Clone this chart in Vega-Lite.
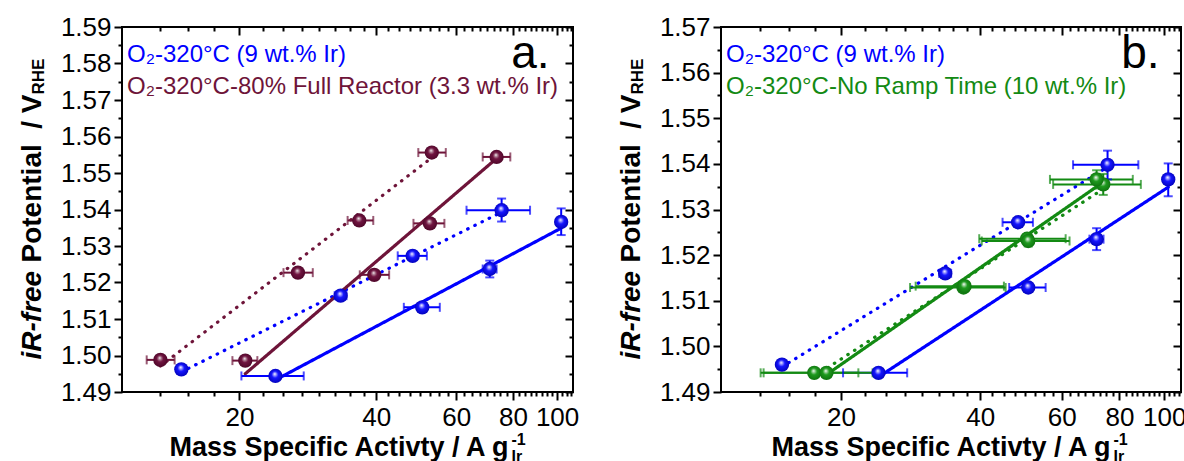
{
"$schema": "https://vega.github.io/schema/vega-lite/v6.json",
"autosize": {"type": "pad"},
"padding": {"left": 17, "top": 13, "right": 0, "bottom": 0},
"background": "white",
"bounds": "flush",
"spacing": 148,
"resolve": {"scale": {"color": "independent", "strokeDash": "independent", "x": "independent", "y": "independent"}, "legend": {"color": "independent"}},
"config": {"view": {"stroke": "black", "strokeWidth": 2}, "axis": {"grid": false}},
"datasets": {
"a_pts": [
{"sample":"O₂-320°C (9 wt.% Ir)","run":"1","x":14.9,"y":1.4962,"xlo":14.9,"xhi":14.9,"ylo":1.4957,"yhi":1.4967},
{"sample":"O₂-320°C (9 wt.% Ir)","run":"1","x":33.4,"y":1.5164,"xlo":32.4,"xhi":34.4,"ylo":1.5158,"yhi":1.5170},
{"sample":"O₂-320°C (9 wt.% Ir)","run":"1","x":48.1,"y":1.5273,"xlo":44.6,"xhi":51.7,"ylo":1.5267,"yhi":1.5279},
{"sample":"O₂-320°C (9 wt.% Ir)","run":"1","x":75.5,"y":1.5398,"xlo":63.2,"xhi":87.2,"ylo":1.5367,"yhi":1.5430},
{"sample":"O₂-320°C (9 wt.% Ir)","run":"2","x":24.0,"y":1.4944,"xlo":20.2,"xhi":27.7,"ylo":1.4939,"yhi":1.4949},
{"sample":"O₂-320°C (9 wt.% Ir)","run":"2","x":50.5,"y":1.5132,"xlo":46.0,"xhi":55.2,"ylo":1.5123,"yhi":1.5141},
{"sample":"O₂-320°C (9 wt.% Ir)","run":"2","x":71.1,"y":1.5237,"xlo":68.6,"xhi":73.6,"ylo":1.5214,"yhi":1.5260},
{"sample":"O₂-320°C (9 wt.% Ir)","run":"2","x":102.1,"y":1.5366,"xlo":101.6,"xhi":102.6,"ylo":1.5330,"yhi":1.5403},
{"sample":"O₂-320°C-80% Full Reactor (3.3 wt.% Ir)","run":"1","x":13.4,"y":1.4988,"xlo":12.5,"xhi":14.4,"ylo":1.4978,"yhi":1.4998},
{"sample":"O₂-320°C-80% Full Reactor (3.3 wt.% Ir)","run":"1","x":26.9,"y":1.5227,"xlo":25.0,"xhi":29.0,"ylo":1.5221,"yhi":1.5233},
{"sample":"O₂-320°C-80% Full Reactor (3.3 wt.% Ir)","run":"1","x":36.7,"y":1.5370,"xlo":34.6,"xhi":39.4,"ylo":1.5364,"yhi":1.5376},
{"sample":"O₂-320°C-80% Full Reactor (3.3 wt.% Ir)","run":"1","x":53.0,"y":1.5556,"xlo":49.5,"xhi":56.9,"ylo":1.5550,"yhi":1.5562},
{"sample":"O₂-320°C-80% Full Reactor (3.3 wt.% Ir)","run":"2","x":20.6,"y":1.4986,"xlo":19.3,"xhi":21.9,"ylo":1.4978,"yhi":1.4994},
{"sample":"O₂-320°C-80% Full Reactor (3.3 wt.% Ir)","run":"2","x":39.6,"y":1.5221,"xlo":36.8,"xhi":42.7,"ylo":1.5215,"yhi":1.5227},
{"sample":"O₂-320°C-80% Full Reactor (3.3 wt.% Ir)","run":"2","x":52.5,"y":1.5362,"xlo":48.3,"xhi":56.5,"ylo":1.5356,"yhi":1.5368},
{"sample":"O₂-320°C-80% Full Reactor (3.3 wt.% Ir)","run":"2","x":73.6,"y":1.5544,"xlo":68.6,"xhi":78.9,"ylo":1.5538,"yhi":1.5550}
],
"a_lines": [
{"sample":"O₂-320°C (9 wt.% Ir)","run":"1","x":14.9,"y":1.4955},
{"sample":"O₂-320°C (9 wt.% Ir)","run":"1","x":75.5,"y":1.5393},
{"sample":"O₂-320°C (9 wt.% Ir)","run":"2","x":24.0,"y":1.4933},
{"sample":"O₂-320°C (9 wt.% Ir)","run":"2","x":102.1,"y":1.5349},
{"sample":"O₂-320°C-80% Full Reactor (3.3 wt.% Ir)","run":"1","x":13.4,"y":1.4971},
{"sample":"O₂-320°C-80% Full Reactor (3.3 wt.% Ir)","run":"1","x":53.0,"y":1.5542},
{"sample":"O₂-320°C-80% Full Reactor (3.3 wt.% Ir)","run":"2","x":20.6,"y":1.4950},
{"sample":"O₂-320°C-80% Full Reactor (3.3 wt.% Ir)","run":"2","x":73.6,"y":1.5540}
],
"b_pts": [
{"sample":"O₂-320°C (9 wt.% Ir)","run":"1","x":14.9,"y":1.4960,"xlo":14.9,"xhi":14.9,"ylo":1.4955,"yhi":1.4965},
{"sample":"O₂-320°C (9 wt.% Ir)","run":"1","x":33.6,"y":1.5160,"xlo":32.6,"xhi":34.6,"ylo":1.5154,"yhi":1.5166},
{"sample":"O₂-320°C (9 wt.% Ir)","run":"1","x":48.3,"y":1.5272,"xlo":44.7,"xhi":52.0,"ylo":1.5266,"yhi":1.5278},
{"sample":"O₂-320°C (9 wt.% Ir)","run":"1","x":75.4,"y":1.5398,"xlo":63.5,"xhi":87.9,"ylo":1.5366,"yhi":1.5429},
{"sample":"O₂-320°C (9 wt.% Ir)","run":"2","x":24.1,"y":1.4942,"xlo":20.2,"xhi":27.8,"ylo":1.4937,"yhi":1.4947},
{"sample":"O₂-320°C (9 wt.% Ir)","run":"2","x":50.8,"y":1.5129,"xlo":46.2,"xhi":55.4,"ylo":1.5120,"yhi":1.5138},
{"sample":"O₂-320°C (9 wt.% Ir)","run":"2","x":71.4,"y":1.5235,"xlo":68.9,"xhi":73.9,"ylo":1.5211,"yhi":1.5259},
{"sample":"O₂-320°C (9 wt.% Ir)","run":"2","x":102.0,"y":1.5366,"xlo":101.5,"xhi":102.5,"ylo":1.5329,"yhi":1.5401},
{"sample":"O₂-320°C-No Ramp Time (10 wt.% Ir)","run":"1","x":17.5,"y":1.4942,"xlo":13.4,"xhi":21.8,"ylo":1.4937,"yhi":1.4947},
{"sample":"O₂-320°C-No Ramp Time (10 wt.% Ir)","run":"1","x":36.8,"y":1.5129,"xlo":28.2,"xhi":45.4,"ylo":1.5122,"yhi":1.5136},
{"sample":"O₂-320°C-No Ramp Time (10 wt.% Ir)","run":"1","x":50.5,"y":1.5236,"xlo":39.8,"xhi":61.2,"ylo":1.5226,"yhi":1.5246},
{"sample":"O₂-320°C-No Ramp Time (10 wt.% Ir)","run":"1","x":73.8,"y":1.5355,"xlo":57.5,"xhi":89.0,"ylo":1.5332,"yhi":1.5378},
{"sample":"O₂-320°C-No Ramp Time (10 wt.% Ir)","run":"2","x":18.6,"y":1.4942,"xlo":13.6,"xhi":23.4,"ylo":1.4937,"yhi":1.4947},
{"sample":"O₂-320°C-No Ramp Time (10 wt.% Ir)","run":"2","x":37.0,"y":1.5132,"xlo":29.0,"xhi":45.0,"ylo":1.5124,"yhi":1.5140},
{"sample":"O₂-320°C-No Ramp Time (10 wt.% Ir)","run":"2","x":50.8,"y":1.5231,"xlo":40.3,"xhi":62.4,"ylo":1.5219,"yhi":1.5243},
{"sample":"O₂-320°C-No Ramp Time (10 wt.% Ir)","run":"2","x":71.4,"y":1.5366,"xlo":56.6,"xhi":85.5,"ylo":1.5346,"yhi":1.5386}
],
"b_lines": [
{"sample":"O₂-320°C (9 wt.% Ir)","run":"1","x":14.9,"y":1.4955},
{"sample":"O₂-320°C (9 wt.% Ir)","run":"1","x":75.4,"y":1.5393},
{"sample":"O₂-320°C (9 wt.% Ir)","run":"2","x":24.1,"y":1.4933},
{"sample":"O₂-320°C (9 wt.% Ir)","run":"2","x":102.0,"y":1.5349},
{"sample":"O₂-320°C-No Ramp Time (10 wt.% Ir)","run":"1","x":17.5,"y":1.4934},
{"sample":"O₂-320°C-No Ramp Time (10 wt.% Ir)","run":"1","x":73.8,"y":1.5345},
{"sample":"O₂-320°C-No Ramp Time (10 wt.% Ir)","run":"2","x":18.6,"y":1.4938},
{"sample":"O₂-320°C-No Ramp Time (10 wt.% Ir)","run":"2","x":71.4,"y":1.5350}
]
},
"hconcat": [
{
"width": 451, "height": 365,
"resolve": {"axis": {"x": "independent", "y": "independent"}},
"layer": [
{
"data": {"name": "a_lines"},
"mark": {"type": "line", "strokeWidth": 3.2, "strokeCap": "round"},
"encoding": {
"x": {"field": "x", "type": "quantitative", "scale": {"type": "log", "domain": [11.03, 108.4], "nice": false},
 "axis": {"orient": "bottom", "title": null, "values": [13.35,15.4,17.55,20,22.5,25,27.5,30,32.5,35,37.5,40,42.5,45,47.5,50,52.5,55,57.5,60,62.5,65,67.5,70,72.5,75,77.5,80,82.5,85,87.5,90,92.5,95,97.5,100,102.5,105,107.5],
  "labelExpr": "indexof([20,40,60,80,100], datum.value) >= 0 ? format(datum.value, 'd') : ''",
  "tickSize": {"condition": {"test": "indexof([20,40,60,80,100], datum.value) >= 0", "value": 8}, "value": 4},
  "tickWidth": 2, "tickColor": "black", "domain": false, "grid": false, "labelFont": "Liberation Sans", "labelFontSize": 26, "labelColor": "black", "labelPadding": 4, "labelOverlap": false, "labelFlush": false}},
"y": {"field": "y", "type": "quantitative", "scale": {"domain": [1.49, 1.59], "nice": false, "zero": false},
 "axis": {"orient": "left", "title": null, "values": [1.49,1.495,1.5,1.505,1.51,1.515,1.52,1.525,1.53,1.535,1.54,1.545,1.55,1.555,1.56,1.565,1.57,1.575,1.58,1.585,1.59],
  "labelExpr": "round(datum.value*200) % 2 == 0 ? format(datum.value, '.2f') : ''",
  "tickSize": {"condition": {"test": "round(datum.value*200) % 2 == 0", "value": 8}, "value": 4},
  "tickWidth": 2, "tickColor": "black", "domain": false, "grid": false, "labelFont": "Liberation Sans", "labelFontSize": 26, "labelColor": "black", "labelPadding": 3, "labelOverlap": false, "labelFlush": false}},
"color": {"field": "sample", "type": "nominal",
 "scale": {"domain": ["O₂-320°C (9 wt.% Ir)", "O₂-320°C-80% Full Reactor (3.3 wt.% Ir)"], "range": ["#0000ff", "#6e1439"]},
 "legend": {"orient": "none", "legendX": -19, "legendY": 16, "title": null, "symbolSize": 0, "symbolOpacity": 0, "symbolStrokeWidth": 0, "labelOffset": 0, "padding": 0, "rowPadding": 8, "labelFont": "Liberation Sans", "labelFontSize": 24, "labelLimit": 800,
  "encode": {"labels": {"update": {"fill": {"signal": "indexof(datum.label, 'Full') >= 0 ? '#6e1439' : '#0000ff'"}}}}}},
"strokeDash": {"field": "run", "type": "nominal", "scale": {"domain": ["1", "2"], "range": [[0.5, 7.5], [1, 0]]}, "legend": null}
}
},
{
"data": {"name": "a_pts"},
"mark": {"type": "rule", "strokeWidth": 2},
"encoding": {
"x": {"field": "xlo", "type": "quantitative", "axis": {"orient": "top", "labels": false, "values": [13.35,15.4,17.55,20,22.5,25,27.5,30,32.5,35,37.5,40,42.5,45,47.5,50,52.5,55,57.5,60,62.5,65,67.5,70,72.5,75,77.5,80,82.5,85,87.5,90,92.5,95,97.5,100,102.5,105,107.5],
  "tickSize": {"condition": {"test": "indexof([20,40,60,80,100], datum.value) >= 0", "value": -8}, "value": -4}, "tickWidth": 2, "tickColor": "black", "domain": false, "grid": false,
  "title": "a.", "titleX": 427, "titleY": 40, "titleAlign": "right", "titleBaseline": "alphabetic", "titleAngle": 0, "titleFont": "Liberation Sans", "titleFontSize": 46, "titleFontWeight": "normal", "titleColor": "black"}},
"x2": {"field": "xhi"},
"y": {"field": "y", "type": "quantitative", "axis": {"orient": "right", "title": null, "labels": false, "values": [1.49,1.495,1.5,1.505,1.51,1.515,1.52,1.525,1.53,1.535,1.54,1.545,1.55,1.555,1.56,1.565,1.57,1.575,1.58,1.585,1.59],
  "tickSize": {"condition": {"test": "round(datum.value*200) % 2 == 0", "value": -8}, "value": -4}, "tickWidth": 2, "tickColor": "black", "domain": false, "grid": false}},
"color": {"condition": {"test": "indexof(datum.sample, '9 wt') >= 0", "value": "#0000ff"}, "value": "#6e1439"}
}
},
{
"data": {"name": "a_pts"},
"mark": {"type": "tick", "orient": "vertical", "size": 9, "thickness": 2},
"encoding": {
"x": {"field": "xlo", "type": "quantitative", "axis": {"orient": "bottom", "labels": false, "ticks": false, "domain": false, "grid": false, "title": "Ir", "titleX": 389, "titleY": 69, "titleAlign": "left", "titleBaseline": "alphabetic", "titleFont": "Liberation Sans", "titleFontSize": 16, "titleFontWeight": "bold", "titleColor": "black"}},
"y": {"field": "y", "type": "quantitative", "axis": {"orient": "left", "labels": false, "ticks": false, "domain": false, "grid": false, "title": "iR-free", "titleX": -82, "titleY": 332, "titleAngle": -90, "titleAlign": "left", "titleBaseline": "alphabetic", "titleFont": "Liberation Sans", "titleFontSize": 28, "titleFontWeight": "bold", "titleFontStyle": "italic", "titleColor": "black"}},
"color": {"condition": {"test": "indexof(datum.sample, '9 wt') >= 0", "value": "#0000ff"}, "value": "#6e1439"}
}
},
{
"data": {"name": "a_pts"},
"mark": {"type": "tick", "orient": "vertical", "size": 9, "thickness": 2},
"encoding": {
"x": {"field": "xhi", "type": "quantitative", "axis": {"orient": "bottom", "labels": false, "ticks": false, "domain": false, "grid": false, "title": "-1", "titleX": 389, "titleY": 52, "titleAlign": "left", "titleBaseline": "alphabetic", "titleFont": "Liberation Sans", "titleFontSize": 16, "titleFontWeight": "bold", "titleColor": "black"}},
"y": {"field": "y", "type": "quantitative", "axis": {"orient": "left", "labels": false, "ticks": false, "domain": false, "grid": false, "title": "Potential\u00a0 / V", "titleX": -82, "titleY": 235, "titleAngle": -90, "titleAlign": "left", "titleBaseline": "alphabetic", "titleFont": "Liberation Sans", "titleFontSize": 28, "titleFontWeight": "bold", "titleColor": "black"}},
"color": {"condition": {"test": "indexof(datum.sample, '9 wt') >= 0", "value": "#0000ff"}, "value": "#6e1439"}
}
},
{
"data": {"name": "a_pts"},
"mark": {"type": "rule", "strokeWidth": 2},
"encoding": {
"x": {"field": "x", "type": "quantitative", "axis": {"orient": "bottom", "labels": false, "ticks": false, "domain": false, "grid": false, "title": "Mass Specific Activty / A g", "titleX": 47, "titleY": 63, "titleAlign": "left", "titleBaseline": "alphabetic", "titleFont": "Liberation Sans", "titleFontSize": 27, "titleFontWeight": "bold", "titleColor": "black"}},
"y": {"field": "ylo", "type": "quantitative", "axis": {"orient": "left", "labels": false, "ticks": false, "domain": false, "grid": false, "title": "RHE", "titleX": -79, "titleY": 67, "titleAngle": -90, "titleAlign": "left", "titleBaseline": "alphabetic", "titleFont": "Liberation Sans", "titleFontSize": 17, "titleFontWeight": "bold", "titleColor": "black"}},
"y2": {"field": "yhi"},
"color": {"condition": {"test": "indexof(datum.sample, '9 wt') >= 0", "value": "#0000ff"}, "value": "#6e1439"}
}
},
{
"data": {"name": "a_pts"},
"mark": {"type": "tick", "orient": "horizontal", "size": 9, "thickness": 2},
"encoding": {
"x": {"field": "x", "type": "quantitative", "axis": null},
"y": {"field": "ylo", "type": "quantitative", "axis": null},
"color": {"condition": {"test": "indexof(datum.sample, '9 wt') >= 0", "value": "#0000ff"}, "value": "#6e1439"}
}
},
{
"data": {"name": "a_pts"},
"mark": {"type": "tick", "orient": "horizontal", "size": 9, "thickness": 2},
"encoding": {
"x": {"field": "x", "type": "quantitative", "axis": null},
"y": {"field": "yhi", "type": "quantitative", "axis": null},
"color": {"condition": {"test": "indexof(datum.sample, '9 wt') >= 0", "value": "#0000ff"}, "value": "#6e1439"}
}
},
{
"data": {"name": "a_pts"},
"mark": {"type": "point", "shape": "circle", "filled": true, "size": 205, "opacity": 1, "strokeWidth": 0},
"encoding": {
"x": {"field": "x", "type": "quantitative", "axis": null},
"y": {"field": "y", "type": "quantitative", "axis": null},
"fill": {"condition": {"test": "indexof(datum.sample, '9 wt') >= 0",
  "value": {"gradient": "radial", "x1": 0.45, "y1": 0.35, "r1": 0, "x2": 0.5, "y2": 0.5, "r2": 0.55, "stops": [{"offset": 0, "color": "#ffffff"}, {"offset": 0.18, "color": "#9a9aff"}, {"offset": 0.42, "color": "#1515ff"}, {"offset": 1, "color": "#0000b4"}]}},
  "value": {"gradient": "radial", "x1": 0.45, "y1": 0.35, "r1": 0, "x2": 0.5, "y2": 0.5, "r2": 0.55, "stops": [{"offset": 0, "color": "#ffffff"}, {"offset": 0.18, "color": "#b28498"}, {"offset": 0.42, "color": "#701440"}, {"offset": 1, "color": "#4a0526"}]}}
}
}
]
},
{
"width": 460, "height": 365,
"resolve": {"axis": {"x": "independent", "y": "independent"}},
"layer": [
{
"data": {"name": "b_lines"},
"mark": {"type": "line", "strokeWidth": 3.2, "strokeCap": "round"},
"encoding": {
"x": {"field": "x", "type": "quantitative", "scale": {"type": "log", "domain": [11.0, 108.7], "nice": false},
 "axis": {"orient": "bottom", "title": null, "values": [13.35,15.4,17.55,20,22.5,25,27.5,30,32.5,35,37.5,40,42.5,45,47.5,50,52.5,55,57.5,60,62.5,65,67.5,70,72.5,75,77.5,80,82.5,85,87.5,90,92.5,95,97.5,100,102.5,105,107.5],
  "labelExpr": "indexof([20,40,60,80,100], datum.value) >= 0 ? format(datum.value, 'd') : ''",
  "tickSize": {"condition": {"test": "indexof([20,40,60,80,100], datum.value) >= 0", "value": 8}, "value": 4},
  "tickWidth": 2, "tickColor": "black", "domain": false, "grid": false, "labelFont": "Liberation Sans", "labelFontSize": 26, "labelColor": "black", "labelPadding": 4, "labelOverlap": false, "labelFlush": false}},
"y": {"field": "y", "type": "quantitative", "scale": {"domain": [1.49, 1.57], "nice": false, "zero": false},
 "axis": {"orient": "left", "title": null, "values": [1.49,1.495,1.5,1.505,1.51,1.515,1.52,1.525,1.53,1.535,1.54,1.545,1.55,1.555,1.56,1.565,1.57],
  "labelExpr": "round(datum.value*200) % 2 == 0 ? format(datum.value, '.2f') : ''",
  "tickSize": {"condition": {"test": "round(datum.value*200) % 2 == 0", "value": 8}, "value": 4},
  "tickWidth": 2, "tickColor": "black", "domain": false, "grid": false, "labelFont": "Liberation Sans", "labelFontSize": 26, "labelColor": "black", "labelPadding": 3, "labelOverlap": false, "labelFlush": false}},
"color": {"field": "sample", "type": "nominal",
 "scale": {"domain": ["O₂-320°C (9 wt.% Ir)", "O₂-320°C-No Ramp Time (10 wt.% Ir)"], "range": ["#0000ff", "#138a13"]},
 "legend": {"orient": "none", "legendX": -19, "legendY": 16, "title": null, "symbolSize": 0, "symbolOpacity": 0, "symbolStrokeWidth": 0, "labelOffset": 0, "padding": 0, "rowPadding": 8, "labelFont": "Liberation Sans", "labelFontSize": 24, "labelLimit": 800,
  "encode": {"labels": {"update": {"fill": {"signal": "indexof(datum.label, 'Ramp') >= 0 ? '#138a13' : '#0000ff'"}}}}}},
"strokeDash": {"field": "run", "type": "nominal", "scale": {"domain": ["1", "2"], "range": [[0.5, 7.5], [1, 0]]}, "legend": null}
}
},
{
"data": {"name": "b_pts"},
"mark": {"type": "rule", "strokeWidth": 2},
"encoding": {
"x": {"field": "xlo", "type": "quantitative", "axis": {"orient": "top", "labels": false, "values": [13.35,15.4,17.55,20,22.5,25,27.5,30,32.5,35,37.5,40,42.5,45,47.5,50,52.5,55,57.5,60,62.5,65,67.5,70,72.5,75,77.5,80,82.5,85,87.5,90,92.5,95,97.5,100,102.5,105,107.5],
  "tickSize": {"condition": {"test": "indexof([20,40,60,80,100], datum.value) >= 0", "value": -8}, "value": -4}, "tickWidth": 2, "tickColor": "black", "domain": false, "grid": false,
  "title": "b.", "titleX": 438, "titleY": 40, "titleAlign": "right", "titleBaseline": "alphabetic", "titleAngle": 0, "titleFont": "Liberation Sans", "titleFontSize": 46, "titleFontWeight": "normal", "titleColor": "black"}},
"x2": {"field": "xhi"},
"y": {"field": "y", "type": "quantitative", "axis": {"orient": "right", "title": null, "labels": false, "values": [1.49,1.495,1.5,1.505,1.51,1.515,1.52,1.525,1.53,1.535,1.54,1.545,1.55,1.555,1.56,1.565,1.57],
  "tickSize": {"condition": {"test": "round(datum.value*200) % 2 == 0", "value": -8}, "value": -4}, "tickWidth": 2, "tickColor": "black", "domain": false, "grid": false}},
"color": {"condition": {"test": "indexof(datum.sample, '9 wt') >= 0", "value": "#0000ff"}, "value": "#138a13"}
}
},
{
"data": {"name": "b_pts"},
"mark": {"type": "tick", "orient": "vertical", "size": 9, "thickness": 2},
"encoding": {
"x": {"field": "xlo", "type": "quantitative", "axis": {"orient": "bottom", "labels": false, "ticks": false, "domain": false, "grid": false, "title": "Ir", "titleX": 392, "titleY": 69, "titleAlign": "left", "titleBaseline": "alphabetic", "titleFont": "Liberation Sans", "titleFontSize": 16, "titleFontWeight": "bold", "titleColor": "black"}},
"y": {"field": "y", "type": "quantitative", "axis": {"orient": "left", "labels": false, "ticks": false, "domain": false, "grid": false, "title": "iR-free", "titleX": -82, "titleY": 332, "titleAngle": -90, "titleAlign": "left", "titleBaseline": "alphabetic", "titleFont": "Liberation Sans", "titleFontSize": 28, "titleFontWeight": "bold", "titleFontStyle": "italic", "titleColor": "black"}},
"color": {"condition": {"test": "indexof(datum.sample, '9 wt') >= 0", "value": "#0000ff"}, "value": "#138a13"}
}
},
{
"data": {"name": "b_pts"},
"mark": {"type": "tick", "orient": "vertical", "size": 9, "thickness": 2},
"encoding": {
"x": {"field": "xhi", "type": "quantitative", "axis": {"orient": "bottom", "labels": false, "ticks": false, "domain": false, "grid": false, "title": "-1", "titleX": 392, "titleY": 52, "titleAlign": "left", "titleBaseline": "alphabetic", "titleFont": "Liberation Sans", "titleFontSize": 16, "titleFontWeight": "bold", "titleColor": "black"}},
"y": {"field": "y", "type": "quantitative", "axis": {"orient": "left", "labels": false, "ticks": false, "domain": false, "grid": false, "title": "Potential\u00a0 / V", "titleX": -82, "titleY": 235, "titleAngle": -90, "titleAlign": "left", "titleBaseline": "alphabetic", "titleFont": "Liberation Sans", "titleFontSize": 28, "titleFontWeight": "bold", "titleColor": "black"}},
"color": {"condition": {"test": "indexof(datum.sample, '9 wt') >= 0", "value": "#0000ff"}, "value": "#138a13"}
}
},
{
"data": {"name": "b_pts"},
"mark": {"type": "rule", "strokeWidth": 2},
"encoding": {
"x": {"field": "x", "type": "quantitative", "axis": {"orient": "bottom", "labels": false, "ticks": false, "domain": false, "grid": false, "title": "Mass Specific Activty / A g", "titleX": 50, "titleY": 63, "titleAlign": "left", "titleBaseline": "alphabetic", "titleFont": "Liberation Sans", "titleFontSize": 27, "titleFontWeight": "bold", "titleColor": "black"}},
"y": {"field": "ylo", "type": "quantitative", "axis": {"orient": "left", "labels": false, "ticks": false, "domain": false, "grid": false, "title": "RHE", "titleX": -79, "titleY": 67, "titleAngle": -90, "titleAlign": "left", "titleBaseline": "alphabetic", "titleFont": "Liberation Sans", "titleFontSize": 17, "titleFontWeight": "bold", "titleColor": "black"}},
"y2": {"field": "yhi"},
"color": {"condition": {"test": "indexof(datum.sample, '9 wt') >= 0", "value": "#0000ff"}, "value": "#138a13"}
}
},
{
"data": {"name": "b_pts"},
"mark": {"type": "tick", "orient": "horizontal", "size": 9, "thickness": 2},
"encoding": {
"x": {"field": "x", "type": "quantitative", "axis": null},
"y": {"field": "ylo", "type": "quantitative", "axis": null},
"color": {"condition": {"test": "indexof(datum.sample, '9 wt') >= 0", "value": "#0000ff"}, "value": "#138a13"}
}
},
{
"data": {"name": "b_pts"},
"mark": {"type": "tick", "orient": "horizontal", "size": 9, "thickness": 2},
"encoding": {
"x": {"field": "x", "type": "quantitative", "axis": null},
"y": {"field": "yhi", "type": "quantitative", "axis": null},
"color": {"condition": {"test": "indexof(datum.sample, '9 wt') >= 0", "value": "#0000ff"}, "value": "#138a13"}
}
},
{
"data": {"name": "b_pts"},
"mark": {"type": "point", "shape": "circle", "filled": true, "size": 205, "opacity": 1, "strokeWidth": 0},
"encoding": {
"x": {"field": "x", "type": "quantitative", "axis": null},
"y": {"field": "y", "type": "quantitative", "axis": null},
"fill": {"condition": {"test": "indexof(datum.sample, '9 wt') >= 0",
  "value": {"gradient": "radial", "x1": 0.45, "y1": 0.35, "r1": 0, "x2": 0.5, "y2": 0.5, "r2": 0.55, "stops": [{"offset": 0, "color": "#ffffff"}, {"offset": 0.18, "color": "#9a9aff"}, {"offset": 0.42, "color": "#1515ff"}, {"offset": 1, "color": "#0000b4"}]}},
  "value": {"gradient": "radial", "x1": 0.45, "y1": 0.35, "r1": 0, "x2": 0.5, "y2": 0.5, "r2": 0.55, "stops": [{"offset": 0, "color": "#ffffff"}, {"offset": 0.18, "color": "#9ad09a"}, {"offset": 0.42, "color": "#1e9a1e"}, {"offset": 1, "color": "#0d6e0d"}]}}
}
}
]
}
]
}
